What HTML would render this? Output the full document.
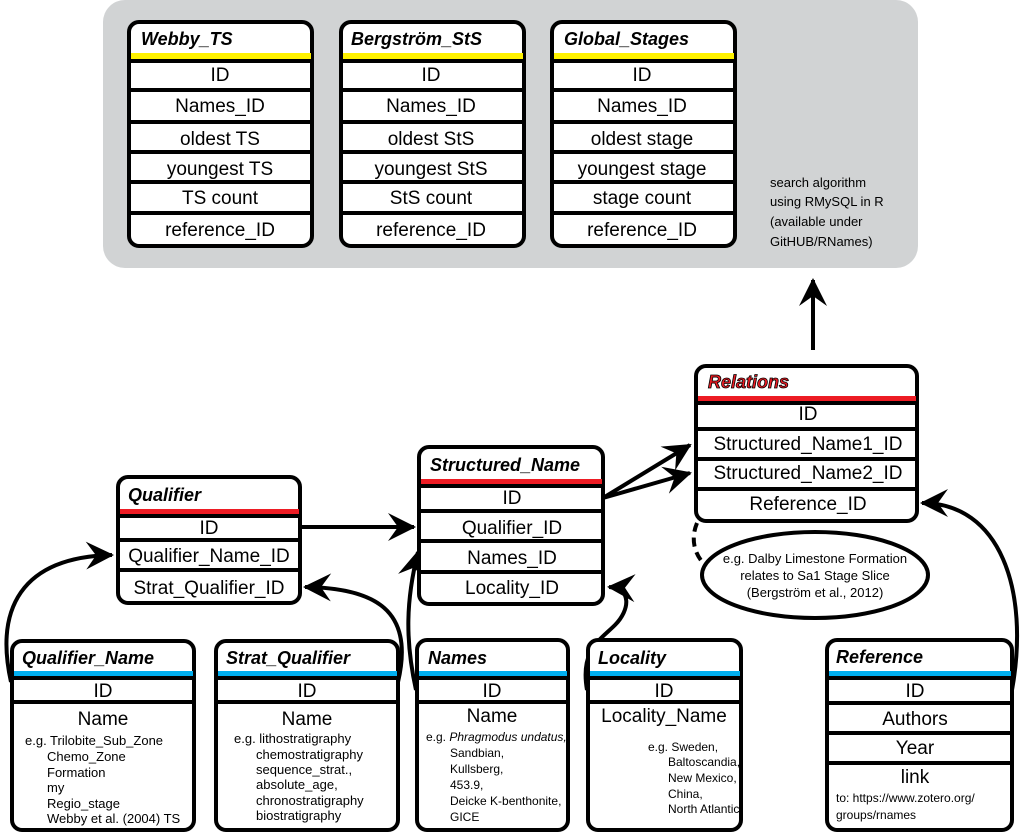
<!DOCTYPE html>
<html><head><meta charset="utf-8"><style>
html,body{margin:0;padding:0;background:#fff}
svg{display:block}
text{font-family:"Liberation Sans",sans-serif;fill:#000}
.t{font-weight:bold;font-style:italic;font-size:18px}
.r{font-size:19px;text-anchor:middle}
.s{font-size:13px}
.e{font-size:12px}
.box{fill:#fff;stroke:#000;stroke-width:4}
.sep{stroke:#000;stroke-width:4}
.ln{fill:none;stroke:#000;stroke-width:4}
</style></head><body>
<svg width="1020" height="833" viewBox="0 0 1020 833" xmlns="http://www.w3.org/2000/svg">
<defs>
<marker id="a" markerUnits="userSpaceOnUse" markerWidth="40" markerHeight="40" refX="0" refY="0" viewBox="-30 -20 40 40" orient="auto">
<path d="M2,0 L-26,-14 L-16,0 L-26,14 Z" fill="#000"/>
</marker>
</defs>
<rect x="103" y="0" width="815" height="268" rx="22" fill="#d1d3d4"/>

<g>
<rect class="box" x="129" y="22" width="183" height="224" rx="10"/>
<rect x="131" y="53" width="180" height="6" fill="#fff200"/>
<line class="sep" x1="129" y1="61" x2="312" y2="61"/>
<line class="sep" x1="129" y1="90" x2="312" y2="90"/>
<line class="sep" x1="129" y1="122" x2="312" y2="122"/>
<line class="sep" x1="129" y1="152" x2="312" y2="152"/>
<line class="sep" x1="129" y1="182" x2="312" y2="182"/>
<line class="sep" x1="129" y1="213" x2="312" y2="213"/>
<text class="t" x="141" y="45">Webby_TS</text>
<text class="r" x="220" y="81">ID</text>
<text class="r" x="220" y="112">Names_ID</text>
<text class="r" x="220" y="145">oldest TS</text>
<text class="r" x="220" y="175">youngest TS</text>
<text class="r" x="220" y="204">TS count</text>
<text class="r" x="220" y="236">reference_ID</text>
</g>
<g>
<rect class="box" x="341" y="22" width="183" height="224" rx="10"/>
<rect x="343" y="53" width="180" height="6" fill="#fff200"/>
<line class="sep" x1="341" y1="61" x2="524" y2="61"/>
<line class="sep" x1="341" y1="90" x2="524" y2="90"/>
<line class="sep" x1="341" y1="122" x2="524" y2="122"/>
<line class="sep" x1="341" y1="152" x2="524" y2="152"/>
<line class="sep" x1="341" y1="182" x2="524" y2="182"/>
<line class="sep" x1="341" y1="213" x2="524" y2="213"/>
<text class="t" x="351" y="45">Bergström_StS</text>
<text class="r" x="431" y="81">ID</text>
<text class="r" x="431" y="112">Names_ID</text>
<text class="r" x="431" y="145">oldest StS</text>
<text class="r" x="431" y="175">youngest StS</text>
<text class="r" x="431" y="204">StS count</text>
<text class="r" x="431" y="236">reference_ID</text>
</g>
<g>
<rect class="box" x="552" y="22" width="183" height="224" rx="10"/>
<rect x="554" y="53" width="180" height="6" fill="#fff200"/>
<line class="sep" x1="552" y1="61" x2="735" y2="61"/>
<line class="sep" x1="552" y1="90" x2="735" y2="90"/>
<line class="sep" x1="552" y1="122" x2="735" y2="122"/>
<line class="sep" x1="552" y1="152" x2="735" y2="152"/>
<line class="sep" x1="552" y1="182" x2="735" y2="182"/>
<line class="sep" x1="552" y1="213" x2="735" y2="213"/>
<text class="t" x="564" y="45">Global_Stages</text>
<text class="r" x="642" y="81">ID</text>
<text class="r" x="642" y="112">Names_ID</text>
<text class="r" x="642" y="145">oldest stage</text>
<text class="r" x="642" y="175">youngest stage</text>
<text class="r" x="642" y="204">stage count</text>
<text class="r" x="642" y="236">reference_ID</text>
</g>
<text class="s" x="770" y="187">search algorithm</text>
<text class="s" x="770" y="206">using RMySQL in R</text>
<text class="s" x="770" y="226">(available under</text>
<text class="s" x="770" y="246">GitHUB/RNames)</text>

<line class="ln" x1="813" y1="350" x2="813" y2="280" marker-end="url(#a)"/>
<line class="ln" x1="300" y1="527" x2="414" y2="527" marker-end="url(#a)"/>
<line class="ln" x1="603" y1="498" x2="690" y2="445" marker-end="url(#a)"/>
<line class="ln" x1="603" y1="498" x2="690" y2="473" marker-end="url(#a)"/>
<path class="ln" d="M11,682 C-5,610 20,557 112,555" marker-end="url(#a)"/>
<path class="ln" d="M398,682 C415,610 375,588 305,587" marker-end="url(#a)"/>
<path class="ln" d="M416,690 C405,640 406,600 418,552" marker-end="url(#a)"/>
<path class="ln" d="M587,690 C580,650 600,640 615,625 C630,610 632,588 609,587" marker-end="url(#a)"/>
<path class="ln" d="M1012,690 C1030,590 1000,503 922,503" marker-end="url(#a)"/>
<path d="M697,523 C690,540 695,555 705,565" fill="none" stroke="#000" stroke-width="4" stroke-dasharray="9,6"/>

<g>
<rect class="box" x="696" y="366" width="221" height="155" rx="10"/>
<rect x="698" y="396" width="218" height="6" fill="#ed1c24"/>
<line class="sep" x1="696" y1="403" x2="917" y2="403"/>
<line class="sep" x1="696" y1="429" x2="917" y2="429"/>
<line class="sep" x1="696" y1="459" x2="917" y2="459"/>
<line class="sep" x1="696" y1="489" x2="917" y2="489"/>
<text class="t" x="708" y="388" style="fill:#ed1c24;stroke:#000;stroke-width:0.8">Relations</text>
<text class="r" x="808" y="420">ID</text>
<text class="r" x="808" y="450">Structured_Name1_ID</text>
<text class="r" x="808" y="479">Structured_Name2_ID</text>
<text class="r" x="808" y="510">Reference_ID</text>
</g>
<ellipse cx="815" cy="575" rx="113" ry="43" fill="#fff" stroke="#000" stroke-width="4"/>
<text class="s" x="815" y="563" text-anchor="middle">e.g. Dalby Limestone Formation</text>
<text class="s" x="815" y="580" text-anchor="middle">relates to Sa1 Stage Slice</text>
<text class="s" x="815" y="597" text-anchor="middle">(Bergström et al., 2012)</text>

<g>
<rect class="box" x="419" y="447" width="184" height="157" rx="10"/>
<rect x="421" y="479" width="181" height="6" fill="#ed1c24"/>
<line class="sep" x1="419" y1="486" x2="603" y2="486"/>
<line class="sep" x1="419" y1="511" x2="603" y2="511"/>
<line class="sep" x1="419" y1="541" x2="603" y2="541"/>
<line class="sep" x1="419" y1="572" x2="603" y2="572"/>
<text class="t" x="430" y="471">Structured_Name</text>
<text class="r" x="512" y="504">ID</text>
<text class="r" x="512" y="534">Qualifier_ID</text>
<text class="r" x="512" y="564">Names_ID</text>
<text class="r" x="512" y="594">Locality_ID</text>
</g>
<g>
<rect class="box" x="118" y="477" width="182" height="126" rx="10"/>
<rect x="120" y="509" width="179" height="6" fill="#ed1c24"/>
<line class="sep" x1="118" y1="516" x2="300" y2="516"/>
<line class="sep" x1="118" y1="540" x2="300" y2="540"/>
<line class="sep" x1="118" y1="570" x2="300" y2="570"/>
<text class="t" x="128" y="501">Qualifier</text>
<text class="r" x="209" y="534">ID</text>
<text class="r" x="209" y="562">Qualifier_Name_ID</text>
<text class="r" x="209" y="594">Strat_Qualifier_ID</text>
</g>

<g>
<rect class="box" x="12" y="641" width="182" height="189" rx="10"/>
<rect x="14" y="671" width="179" height="6" fill="#00aeef"/>
<line class="sep" x1="12" y1="678" x2="194" y2="678"/>
<line class="sep" x1="12" y1="702" x2="194" y2="702"/>
<text class="t" x="22" y="664">Qualifier_Name</text>
<text class="r" x="103" y="697">ID</text>
<text class="r" x="103" y="725">Name</text>
<text class="s" x="25" y="745">e.g. Trilobite_Sub_Zone</text>
<text class="s" x="47" y="761">Chemo_Zone</text>
<text class="s" x="47" y="777">Formation</text>
<text class="s" x="47" y="792">my</text>
<text class="s" x="47" y="808">Regio_stage</text>
<text class="s" x="47" y="823">Webby et al. (2004) TS</text>
</g>
<g>
<rect class="box" x="216" y="641" width="182" height="189" rx="10"/>
<rect x="218" y="671" width="179" height="6" fill="#00aeef"/>
<line class="sep" x1="216" y1="678" x2="398" y2="678"/>
<line class="sep" x1="216" y1="702" x2="398" y2="702"/>
<text class="t" x="226" y="664">Strat_Qualifier</text>
<text class="r" x="307" y="697">ID</text>
<text class="r" x="307" y="725">Name</text>
<text class="s" x="234" y="743">e.g. lithostratigraphy</text>
<text class="s" x="256" y="759">chemostratigraphy</text>
<text class="s" x="256" y="774">sequence_strat.,</text>
<text class="s" x="256" y="789">absolute_age,</text>
<text class="s" x="256" y="805">chronostratigraphy</text>
<text class="s" x="256" y="820">biostratigraphy</text>
</g>
<g>
<rect class="box" x="417" y="640" width="151" height="190" rx="10"/>
<rect x="419" y="671" width="148" height="6" fill="#00aeef"/>
<line class="sep" x1="417" y1="678" x2="568" y2="678"/>
<line class="sep" x1="417" y1="702" x2="568" y2="702"/>
<text class="t" x="428" y="664">Names</text>
<text class="r" x="492" y="697">ID</text>
<text class="r" x="492" y="722">Name</text>
<text class="e" x="426" y="741">e.g. <tspan font-style="italic">Phragmodus undatus,</tspan></text>
<text class="e" x="450" y="757">Sandbian,</text>
<text class="e" x="450" y="773">Kullsberg,</text>
<text class="e" x="450" y="789">453.9,</text>
<text class="e" x="450" y="805">Deicke K-benthonite,</text>
<text class="e" x="450" y="821">GICE</text>
</g>
<g>
<rect class="box" x="588" y="640" width="153" height="190" rx="10"/>
<rect x="590" y="671" width="150" height="6" fill="#00aeef"/>
<line class="sep" x1="588" y1="678" x2="741" y2="678"/>
<line class="sep" x1="588" y1="702" x2="741" y2="702"/>
<text class="t" x="598" y="664">Locality</text>
<text class="r" x="664" y="697">ID</text>
<text class="r" x="664" y="722">Locality_Name</text>
<text class="e" x="648" y="751">e.g. Sweden,</text>
<text class="e" x="668" y="766">Baltoscandia,</text>
<text class="e" x="668" y="782">New Mexico,</text>
<text class="e" x="668" y="798">China,</text>
<text class="e" x="668" y="813">North Atlantic</text>
</g>
<g>
<rect class="box" x="827" y="640" width="185" height="190" rx="10"/>
<rect x="829" y="671" width="182" height="6" fill="#00aeef"/>
<line class="sep" x1="827" y1="678" x2="1012" y2="678"/>
<line class="sep" x1="827" y1="703" x2="1012" y2="703"/>
<line class="sep" x1="827" y1="733" x2="1012" y2="733"/>
<line class="sep" x1="827" y1="763" x2="1012" y2="763"/>
<text class="t" x="836" y="663">Reference</text>
<text class="r" x="915" y="697">ID</text>
<text class="r" x="915" y="725">Authors</text>
<text class="r" x="915" y="754">Year</text>
<text class="r" x="915" y="783">link</text>
<text class="s" x="836" y="802" style="font-size:12px">to:  https://www.zotero.org/</text>
<text class="s" x="836" y="819" style="font-size:12px">groups/rnames</text>
</g>
</svg>
</body></html>
